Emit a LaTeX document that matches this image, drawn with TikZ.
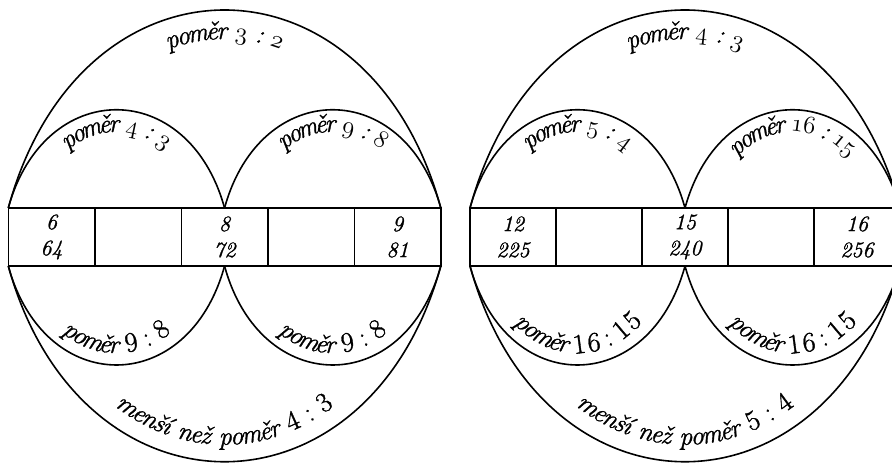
\documentclass[tikz,border=0pt]{standalone}
\usepackage{fontspec}
\usetikzlibrary{decorations.text}
\newfontfamily\labfam{Latin Modern Roman}[LetterSpace=7, FakeBold=1.2]
\newfontfamily\cellfam{Latin Modern Roman}[FakeBold=1.2]
\newcommand\myosf[1]{{\fontsize{28}{28}\usefont{OML}{cmm}{m}{it}#1}}
\newcommand\labfont{\labfam\itshape\fontsize{26}{26}\selectfont}
\newcommand\upd[1]{{\fontsize{28}{28}\selectfont\upshape #1}}
\tikzset{
  arcline/.style={line width=1.6pt},
  cell/.style={draw, line width=1.6pt, outer sep=0pt, inner sep=0pt,
    minimum height=58pt, align=center, font=\cellfam\itshape\fontsize{22}{26}\selectfont},
  lcell/.style={cell, minimum width=86.5pt},
  rcell/.style={cell, minimum width=86pt},
  lab/.style 2 args={font=\labfont, postaction={decorate,
    decoration={text along path, text align=center, raise=#1, text={|\labfont|#2}}}}
}
\begin{document}
\begin{tikzpicture}[x=1pt,y=1pt]
\useasboundingbox (0,0) rectangle (892,463);
\clip (0,0) rectangle (892,463);
% left diagram
\node[lcell] (L1) at (51.55,226) {6\\64};
\node[lcell] (L2) at (138.05,226) {};
\node[lcell] (L3) at (224.55,226) {8\\72};
\node[lcell] (L4) at (311.05,226) {};
\node[lcell] (L5) at (397.55,226) {9\\81};
\draw[arcline, lab={-29}{poměr {\myosf{3}} : {\myosf{2}}}]
  (L1.north west) .. controls +(72,264) and +(-72,264) .. (L5.north east);
\draw[arcline, lab={-22}{poměr {\myosf{4}} : {\myosf{3}}}]
  (L1.north west) .. controls +(36,131) and +(-36,131) .. (L3.north);
\draw[arcline, lab={-22}{poměr {\myosf{9}} : {\myosf{8}}}]
  (L3.north) .. controls +(36,131) and +(-36,131) .. (L5.north east);
\draw[arcline, lab={12}{poměr {\upd{9}} {\upd{:}} {\upd{8}}}]
  (L1.south west) .. controls +(36,-132) and +(-36,-132) .. (L3.south);
\draw[arcline, lab={12}{poměr {\upd{9}} {\upd{:}} {\upd{8}}}]
  (L3.south) .. controls +(36,-132) and +(-36,-132) .. (L5.south east);
\draw[arcline, lab={17}{menší než poměr {\upd{4}} {\upd{:}} {\upd{3}}}]
  (L1.south west) .. controls +(72,-261) and +(-72,-261) .. (L5.south east);
% right diagram
\node[rcell] (R1) at (513,226) {12\\225};
\node[rcell] (R2) at (599,226) {};
\node[rcell] (R3) at (685,226) {15\\240};
\node[rcell] (R4) at (771,226) {};
\node[rcell] (R5) at (857,226) {16\\256};
\draw[arcline, lab={-29}{poměr {\myosf{4}} : {\myosf{3}}}]
  (R1.north west) .. controls +(72,264) and +(-72,264) .. (R5.north east);
\draw[arcline, lab={-22}{poměr {\myosf{5}} : {\myosf{4}}}]
  (R1.north west) .. controls +(36,131) and +(-36,131) .. (R3.north);
\draw[arcline, lab={-22}{poměr {\myosf{16}} : {\myosf{15}}}]
  (R3.north) .. controls +(36,131) and +(-36,131) .. (R5.north east);
\draw[arcline, lab={12}{poměr {\upd{16}} {\upd{:}} {\upd{15}}}]
  (R1.south west) .. controls +(36,-132) and +(-36,-132) .. (R3.south);
\draw[arcline, lab={12}{poměr {\upd{16}} {\upd{:}} {\upd{15}}}]
  (R3.south) .. controls +(36,-132) and +(-36,-132) .. (R5.south east);
\draw[arcline, lab={17}{menší než poměr {\upd{5}} {\upd{:}} {\upd{4}}}]
  (R1.south west) .. controls +(72,-261) and +(-72,-261) .. (R5.south east);
\end{tikzpicture}
\end{document}
